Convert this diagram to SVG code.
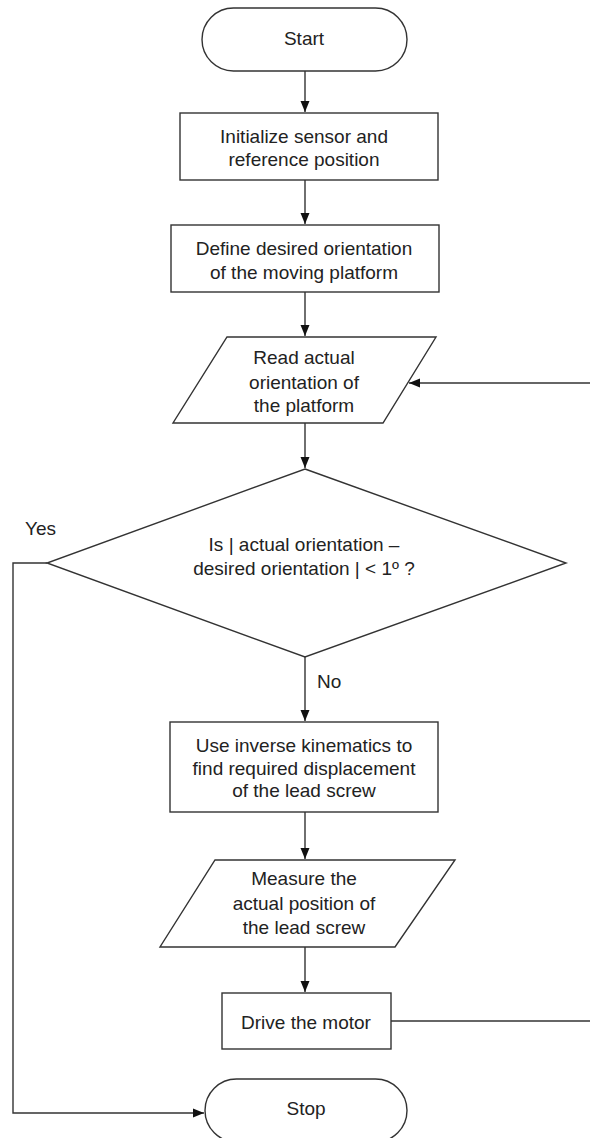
<svg xmlns="http://www.w3.org/2000/svg" width="590" height="1138" viewBox="0 0 590 1138">
<style>
.s{fill:#fff;stroke:#333;stroke-width:1.4}
.c{fill:none;stroke:#333;stroke-width:1.4}
text{font-family:"Liberation Sans",Arial,sans-serif;font-size:19px;fill:#222}
.m{text-anchor:middle}
</style>
<defs>
<marker id="ah" markerUnits="userSpaceOnUse" markerWidth="12" markerHeight="10" viewBox="0 0 12 10" refX="11" refY="5" orient="auto">
<path d="M0,0.5 L11,5 L0,9.5 Z" fill="#111"/>
</marker>
</defs>
<rect width="590" height="1138" fill="#fff"/>
<g id="connectors">
<line class="c" x1="305" y1="71" x2="305" y2="112" marker-end="url(#ah)"/>
<line class="c" x1="305" y1="180" x2="305" y2="224" marker-end="url(#ah)"/>
<line class="c" x1="305" y1="292" x2="305" y2="336" marker-end="url(#ah)"/>
<line class="c" x1="305" y1="423" x2="305" y2="468" marker-end="url(#ah)"/>
<line class="c" x1="305" y1="657" x2="305" y2="721" marker-end="url(#ah)"/>
<line class="c" x1="305" y1="812" x2="305" y2="859" marker-end="url(#ah)"/>
<line class="c" x1="305" y1="947" x2="305" y2="992" marker-end="url(#ah)"/>
<polyline class="c" points="47,563 13,563 13,1113 204,1113" marker-end="url(#ah)"/>
<line class="c" x1="391" y1="1021" x2="590" y2="1021"/>
<line class="c" x1="590" y1="383" x2="409" y2="383" marker-end="url(#ah)"/>
<text x="25" y="535">Yes</text>
<text x="317" y="688">No</text>
</g>
<g id="start">
<rect class="s" x="202" y="8" width="205" height="63" rx="31.5"/>
<text class="m" x="304" y="45">Start</text>
</g>
<g id="init">
<rect class="s" x="180" y="113" width="258" height="67"/>
<text class="m" x="304" y="143">Initialize sensor and</text>
<text class="m" x="304" y="166">reference position</text>
</g>
<g id="define">
<rect class="s" x="171" y="225" width="268" height="67"/>
<text class="m" x="304" y="255">Define desired orientation</text>
<text class="m" x="304" y="279">of the moving platform</text>
</g>
<g id="read">
<polygon class="s" points="227,337 436,337 383,423 173,423"/>
<text class="m" x="304" y="364">Read actual</text>
<text class="m" x="304" y="389">orientation of</text>
<text class="m" x="304" y="412">the platform</text>
</g>
<g id="decision">
<polygon class="s" points="305,469 566,563 305,657 47,563"/>
<text class="m" x="304" y="551">Is | actual orientation –</text>
<text class="m" x="304" y="575">desired orientation | &lt; 1º ?</text>
</g>
<g id="inverse">
<rect class="s" x="170" y="722" width="268" height="90"/>
<text class="m" x="304" y="752">Use inverse kinematics to</text>
<text class="m" x="304" y="775">find required displacement</text>
<text class="m" x="304" y="797">of the lead screw</text>
</g>
<g id="measure">
<polygon class="s" points="215,860 455,860 395,947 160,947"/>
<text class="m" x="304" y="885">Measure the</text>
<text class="m" x="304" y="910">actual position of</text>
<text class="m" x="304" y="934">the lead screw</text>
</g>
<g id="drive">
<rect class="s" x="222" y="993" width="169" height="56"/>
<text class="m" x="306" y="1029">Drive the motor</text>
</g>
<g id="stop">
<rect class="s" x="205" y="1079" width="202" height="63" rx="31.5"/>
<text class="m" x="306" y="1115">Stop</text>
</g>
</svg>
